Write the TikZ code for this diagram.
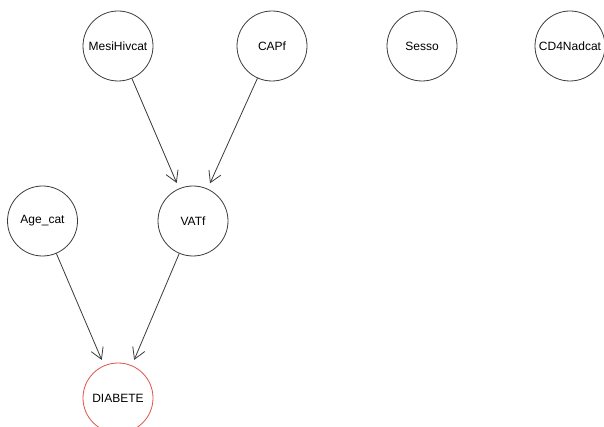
\documentclass[tikz,border=0pt]{standalone}
\usepackage{fontspec}
\setmainfont{Liberation Sans}
\usepackage{tikz}
\usetikzlibrary{arrows.meta}

\definecolor{edgegray}{HTML}{3A3A3A}
\definecolor{targetred}{HTML}{E0504A}

\tikzset{
    var/.style={circle, draw=edgegray, line width=0.8pt, minimum size=70pt,
        inner sep=0pt, font=\fontsize{12}{14}\selectfont},
    target/.style={var, draw=targetred},
    link/.style={draw=edgegray, line width=0.8pt,
        -{Straight Barb[length=11pt,width=13pt,line width=0.8pt]}, shorten >=6pt}
}

\begin{document}
\begin{tikzpicture}[x=1pt, y=-1pt]
    \useasboundingbox (0,0) rectangle (604,427);
    % top row
    \node[var] (mesi) at (118,46) {MesiHivcat};
    \node[var] (capf) at (272,46) {CAPf};
    \node[var] (sesso) at (422,46) {Sesso};
    \node[var] (cd4) at (570,46) {CD4Nadcat};
    % middle row
    \node[var] (age) at (42.5,221) {Age\_cat};
    \node[var] (vatf) at (193,221) {VATf};
    % outcome
    \node[target] (diab) at (118,398) {DIABETE};
    % arcs
    \foreach \a/\b in {mesi/vatf, capf/vatf, age/diab, vatf/diab} {
        \draw[link] (\a) -- (\b);
    }
\end{tikzpicture}
\end{document}
